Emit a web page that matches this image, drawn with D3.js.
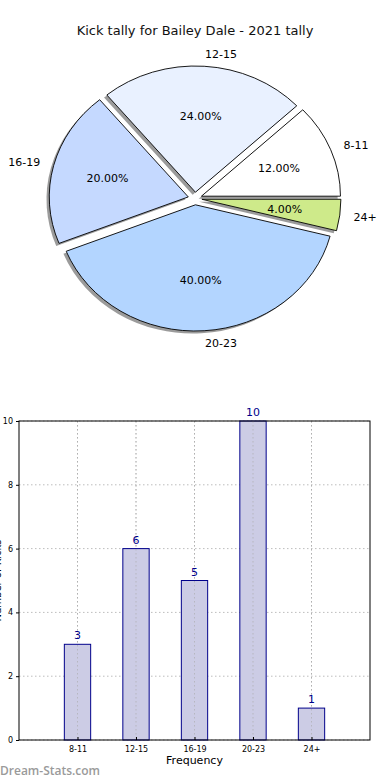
<!DOCTYPE html>
<html><head><meta charset="utf-8">
<script src="https://cdn.jsdelivr.net/npm/d3@7"></script>
<style>body{margin:0;background:#fff}svg{display:block;font-family:"DejaVu Sans",sans-serif}</style>
</head><body><svg id="c" width="390" height="780"></svg>
<script>
const categories = ["8-11","12-15","16-19","20-23","24+"];
const counts = [3,6,5,10,1];
const sliceColors = ["#ffffff","#e9f1ff","#c5d9ff","#b3d5ff","#ceea8a"];
const yTicks = [0,2,4,6,8,10];
const title = "Kick tally for Bailey Dale - 2021 tally";

const svg = d3.select("#c");
svg.append("text").attr("x",195).attr("y",35).attr("text-anchor","middle")
  .attr("font-size",13).attr("fill","#111").text(title);

// Pie (matplotlib-style: counter-clockwise from 3 o'clock, elliptical)
const cx=195, cy=198.5, rx=139, ry=126.2, R=100, explode=0.05;
const total = d3.sum(counts);
const pie = d3.pie().sort(null).startAngle(Math.PI/2).endAngle(Math.PI/2-2*Math.PI);
const arcs = pie(counts);
const arc = d3.arc().innerRadius(0).outerRadius(R);
const g = svg.append("g");
arcs.forEach((a,i)=>{
  const m=(a.startAngle+a.endAngle)/2;
  const ux=Math.sin(m), uy=-Math.cos(m);
  const ox=cx+ux*explode*rx, oy=cy+uy*explode*ry;
  g.append("path").attr("d",arc(a))
    .attr("transform",`translate(${ox-0.02*rx},${oy+0.02*ry}) scale(${rx/R},${ry/R})`)
    .attr("fill","#7a7a7a").attr("opacity",0.75);
});
arcs.forEach((a,i)=>{
  const m=(a.startAngle+a.endAngle)/2;
  const ux=Math.sin(m), uy=-Math.cos(m);
  const ox=cx+ux*explode*rx, oy=cy+uy*explode*ry;
  g.append("path").attr("d",arc(a))
    .attr("transform",`translate(${ox},${oy}) scale(${rx/R},${ry/R})`)
    .attr("fill",sliceColors[i]).attr("stroke","#000").attr("stroke-width",0.9)
    .attr("vector-effect","non-scaling-stroke");
  g.append("text").attr("x",ox+ux*1.1*rx).attr("y",oy+uy*1.1*ry)
    .attr("dy","0.35em").attr("text-anchor",ux>=0?"start":"end")
    .attr("font-size",11).attr("fill","#000").text(categories[i]);
  g.append("text").attr("x",ox+ux*0.6*rx).attr("y",oy+uy*0.6*ry)
    .attr("dy","0.35em").attr("text-anchor","middle")
    .attr("font-size",11).attr("fill","#000").text((counts[i]/total*100).toFixed(2)+"%");
});

// Bar chart
const L=19, Rr=370, T=421, B=740;
const x = d3.scaleLinear().domain([-1,5]).range([L,Rr]);
const y = d3.scaleLinear().domain([0,10]).range([B,T]);
const bw = 0.45;
const bg = svg.append("g");
// grid
bg.selectAll(".gy").data(yTicks).join("line")
  .attr("x1",L).attr("x2",Rr).attr("y1",d=>y(d)).attr("y2",d=>y(d))
  .attr("stroke","#bdbdbd").attr("stroke-dasharray","1.5,2.5").attr("stroke-width",1);
bg.selectAll(".gx").data(categories).join("line")
  .attr("x1",(d,i)=>x(i)).attr("x2",(d,i)=>x(i)).attr("y1",T).attr("y2",B)
  .attr("stroke","#bdbdbd").attr("stroke-dasharray","1.5,2.5").attr("stroke-width",1);
// bars
bg.selectAll(".bar").data(counts).join("rect")
  .attr("x",(d,i)=>x(i-bw/2)).attr("width",x(bw)-x(0))
  .attr("y",d=>y(d)).attr("height",d=>B-y(d))
  .attr("fill","#cccce5").attr("stroke","#00008b").attr("stroke-width",1);
bg.selectAll(".gx2").data(categories).join("line")
  .attr("x1",(d,i)=>x(i)).attr("x2",(d,i)=>x(i)).attr("y1",T).attr("y2",B)
  .attr("stroke","#a8a8a8").attr("stroke-dasharray","1.5,2.5").attr("stroke-width",1).attr("opacity",0.6);
bg.selectAll(".vl").data(counts).join("text")
  .attr("x",(d,i)=>x(i)).attr("y",d=>y(d)-5).attr("text-anchor","middle")
  .attr("font-size",11).attr("fill","#00008b").text(d=>d);
// frame
bg.append("rect").attr("x",L).attr("y",T).attr("width",Rr-L).attr("height",B-T)
  .attr("fill","none").attr("stroke","#000").attr("stroke-width",1);
// axes
const ya = d3.axisLeft(y).tickValues(yTicks).tickSize(3).tickPadding(3);
const yg = bg.append("g").attr("transform",`translate(${L},0)`).call(ya);
yg.select(".domain").remove();
yg.selectAll("text").attr("font-size",8).attr("font-family","DejaVu Sans").attr("fill","#000");
const xa = d3.axisBottom(x).tickValues(d3.range(categories.length)).tickFormat(i=>categories[i]).tickSize(3).tickPadding(3);
const xg = bg.append("g").attr("transform",`translate(0,${B})`).call(xa);
xg.select(".domain").remove();
xg.selectAll("line").attr("transform","translate(0,-3)");
xg.selectAll("text").attr("font-size",8).attr("font-family","DejaVu Sans").attr("fill","#000");
svg.append("text").attr("x",194.5).attr("y",764).attr("text-anchor","middle")
  .attr("font-size",11).text("Frequency");
svg.append("text").attr("transform",`translate(1,${(T+B)/2}) rotate(-90)`)
  .attr("text-anchor","middle").attr("font-size",10).text("Number of Kicks");
svg.append("text").attr("x",0).attr("y",775).attr("font-size",12).attr("font-weight","600")
  .attr("fill","#9a9a9a").attr("font-family","'Open Sans',sans-serif").text("Dream-Stats.com");
</script></body></html>
